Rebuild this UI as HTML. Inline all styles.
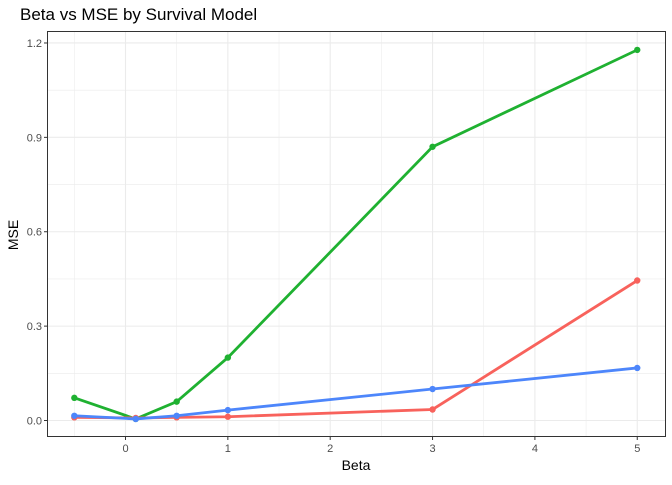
<!DOCTYPE html>
<html><head><style>
body{margin:0;background:#fff;font-family:"Liberation Sans",Arial,sans-serif}
</style></head><body>
<svg id="chart" width="672" height="480" xmlns="http://www.w3.org/2000/svg">
<text x="20" y="20" font-size="17" fill="#000">Beta vs MSE by Survival Model</text>
<g id="grid"></g>
<rect x="47.5" y="31.5" width="618" height="405" fill="none" stroke="#333" stroke-width="1"/>
<g id="axes"></g>
<g id="series"></g>
<text x="356" y="470" font-size="14" text-anchor="middle">Beta</text>
<text x="18" y="235" font-size="14" text-anchor="middle" transform="rotate(-90 18 235)">MSE</text>
</svg>
<script>
const betas=[-0.5,0.1,0.5,1,3,5];
const greenMSE=[0.072,0.005,0.06,0.2,0.87,1.178];
const redMSE=[0.01,0.008,0.01,0.012,0.035,0.445];
const blueMSE=[0.015,0.005,0.015,0.033,0.1,0.167];
const xTicks=[0,1,2,3,4,5];
const yTicks=[0,0.3,0.6,0.9,1.2];
const yTickLabels=["0.0","0.3","0.6","0.9","1.2"];
const NS="http://www.w3.org/2000/svg";
function xs(v){return 125.5+v*102.35;}
function ys(v){return 420.5-v*314.6;}
function mk(tag,attrs,parent){const e=document.createElementNS(NS,tag);for(const k in attrs)e.setAttribute(k,attrs[k]);parent.appendChild(e);return e;}
const grid=document.getElementById('grid'),axes=document.getElementById('axes'),ser=document.getElementById('series');
for(let i=-0.5;i<=5.5;i+=0.5){const full=Number.isInteger(i);const l=mk('line',{x1:xs(i),x2:xs(i),y1:32,y2:436,stroke:'#ebebeb','stroke-width':full?1.1:0.55},grid);

}
for(let v=0;v<=1.35;v+=0.15){const full=Math.round(v*100)%30===0;const l=mk('line',{x1:48,x2:665,y1:ys(v),y2:ys(v),stroke:'#ebebeb','stroke-width':full?1.1:0.55},grid);

}
xTicks.forEach(t=>{mk('line',{x1:xs(t),x2:xs(t),y1:437,y2:440,stroke:'#333'},axes);
const tx=mk('text',{x:xs(t),y:452,'font-size':11,'text-anchor':'middle',fill:'#4d4d4d'},axes);tx.textContent=t;

});
yTicks.forEach((t,i)=>{mk('line',{x1:44,x2:47.5,y1:ys(t),y2:ys(t),stroke:'#333'},axes);
const tx=mk('text',{x:42,y:ys(t)+4,'font-size':11,'text-anchor':'end',fill:'#4d4d4d'},axes);tx.textContent=yTickLabels[i];

});
function draw(vals,color,name){
const p=mk('polyline',{points:betas.map((b,i)=>xs(b)+','+ys(vals[i])).join(' '),fill:'none',stroke:color,'stroke-width':2.8},ser);


betas.forEach((b,i)=>{const c=mk('circle',{cx:xs(b),cy:ys(vals[i]),r:3.2,fill:color},ser);

});}
draw(greenMSE,'#1fb131','green-series');
draw(redMSE,'#f8625c','red-series');
draw(blueMSE,'#4d86fb','blue-series');
</script>
</body></html>
